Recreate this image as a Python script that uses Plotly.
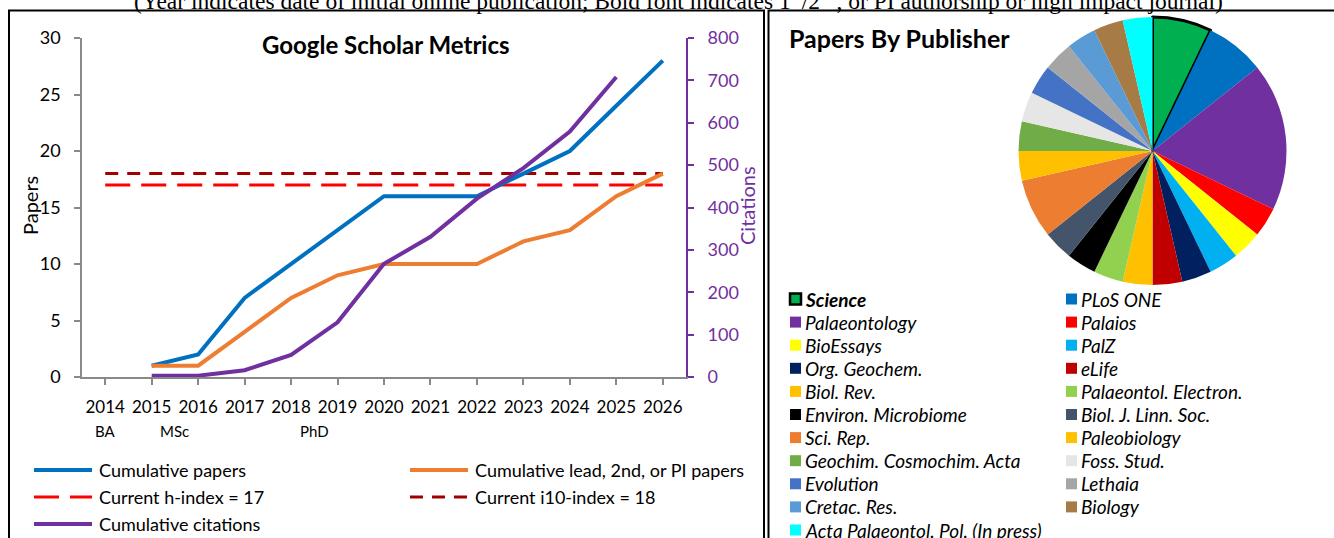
import plotly.graph_objects as go

# ---------------- data ----------------
paper_years = [2015, 2016, 2017, 2018, 2019, 2020, 2021, 2022, 2023, 2024, 2025, 2026]
cum_papers = [1, 2, 7, 10, 13, 16, 16, 16, 18, 20, 24, 28]
cum_lead = [1, 1, 4, 7, 9, 10, 10, 10, 12, 13, 16, 18]
citation_years = [2015, 2016, 2017, 2018, 2019, 2020, 2021, 2022, 2023, 2024, 2025]
cum_citations = [3, 3, 16, 52, 129, 267, 331, 421, 493, 579, 708]
index_years = [2014, 2026]
h_index = 17
i10_index = 18
tick_years = list(range(2014, 2027))
stage_labels = ["BA", "MSc", "PhD"]
stage_years = [2014, 2015.5, 2018.5]

series_names = ["Cumulative papers", "Cumulative lead, 2nd, or PI papers",
                "Current h-index = 17", "Current i10-index = 18", "Cumulative citations"]

publishers = ["Science", "PLoS ONE", "Palaeontology", "Palaios", "BioEssays", "PalZ",
              "Org. Geochem.", "eLife", "Biol. Rev.", "Palaeontol. Electron.",
              "Environ. Microbiome", "Biol. J. Linn. Soc.", "Sci. Rep.", "Paleobiology",
              "Geochim. Cosmochim. Acta", "Foss. Stud.", "Evolution", "Lethaia",
              "Cretac. Res.", "Biology", "Acta Palaeontol. Pol. (In press)"]
publisher_papers = [2, 2, 5, 1, 1, 1, 1, 1, 1, 1, 1, 1, 2, 1, 1, 1, 1, 1, 1, 1, 1]
publisher_colors = ["#00B050", "#0070C0", "#7030A0", "#FF0000", "#FFFF00", "#00B0F0",
                    "#002060", "#C00000", "#FFC000", "#92D050", "#000000", "#44546A",
                    "#ED7D31", "#FFC000", "#70AD47", "#E7E6E6", "#4472C4", "#A5A5A5",
                    "#5B9BD5", "#A67B45", "#00FFFF"]
bold_publishers = ["Science"]

# ---------------- styling ----------------
W, H = 1334, 538
FONT = "Lato"
BLUE, ORANGE, RED, DARKRED, PURPLE = "#0070C0", "#ED7D31", "#FF0000", "#A00000", "#7030A0"
AXGREY = "#898989"


def px(x):
    return x / W


def py(y):
    return 1 - y / H


fig = go.Figure()

# reference lines
fig.add_trace(go.Scatter(x=index_years, y=[h_index] * len(index_years), mode="lines",
                         line=dict(color=RED, width=3, dash="25px,11px"),
                         name=series_names[2], xaxis="x", yaxis="y"))
fig.add_trace(go.Scatter(x=index_years, y=[i10_index] * len(index_years), mode="lines",
                         line=dict(color=DARKRED, width=3, dash="13px,9px"),
                         name=series_names[3], xaxis="x", yaxis="y"))
fig.add_trace(go.Scatter(x=paper_years, y=cum_papers, mode="lines",
                         line=dict(color=BLUE, width=4), name=series_names[0],
                         xaxis="x", yaxis="y"))
fig.add_trace(go.Scatter(x=paper_years, y=cum_lead, mode="lines",
                         line=dict(color=ORANGE, width=4), name=series_names[1],
                         xaxis="x", yaxis="y"))
fig.add_trace(go.Scatter(x=citation_years, y=cum_citations, mode="lines",
                         line=dict(color=PURPLE, width=4), name=series_names[4],
                         xaxis="x", yaxis="y2"))

# pie
line_w = [3 if p in bold_publishers else 0 for p in publishers]
fig.add_trace(go.Pie(labels=publishers, values=publisher_papers, sort=False,
                     direction="clockwise", rotation=0, textinfo="none",
                     marker=dict(colors=publisher_colors,
                                 line=dict(color="#000000", width=line_w)),
                     domain=dict(x=[px(1018.5), px(1286.5)], y=[py(285), py(17)]),
                     showlegend=False))

fig.update_layout(
    width=W, height=H, margin=dict(l=0, r=0, t=0, b=0, autoexpand=False),
    paper_bgcolor="white", plot_bgcolor="white", showlegend=False,
    font=dict(family=FONT, size=18, color="#000000"),
    xaxis=dict(domain=[px(82), px(686)], range=[2013.5, 2026.5], tickmode="array",
               tickvals=tick_years, ticktext=[str(y) for y in tick_years],
               showgrid=False, zeroline=False, showline=True, linecolor=AXGREY,
               linewidth=1.5, ticks="outside", ticklen=6, tickcolor=AXGREY,
               tickwidth=1.5, ticklabelstandoff=8, tickfont=dict(size=17),
               anchor="y", fixedrange=True),
    yaxis=dict(domain=[py(377), py(38)], range=[0, 30], dtick=5, showgrid=False,
               zeroline=False, showline=True, linecolor=AXGREY, linewidth=1.5,
               ticks="outside", ticklen=6, tickcolor=AXGREY, tickwidth=1.5,
               ticklabelstandoff=10, tickfont=dict(size=18), anchor="x"),
    yaxis2=dict(overlaying="y", side="right", range=[0, 800], dtick=100, showgrid=False,
                zeroline=False, showline=True, linecolor=PURPLE, linewidth=2,
                ticks="outside", ticklen=6, tickcolor=PURPLE, tickwidth=2,
                ticklabelstandoff=10, tickfont=dict(size=18, color=PURPLE), anchor="x"),
)

shapes = []
annotations = []

# panel borders
shapes.append(dict(type="rect", xref="paper", yref="paper", x0=px(9), x1=px(764),
                   y0=py(545), y1=py(10.5), line=dict(color="black", width=2)))
shapes.append(dict(type="rect", xref="paper", yref="paper", x0=px(768.5), x1=px(1345),
                   y0=py(545), y1=py(10.5), line=dict(color="black", width=2)))

# header caption (partially cut off at top)
annotations.append(dict(
    text="(Year indicates date of initial online publication; Bold font indicates "
         "1<sup>st</sup>/2<sup>nd</sup>, or PI authorship or high impact journal)",
    xref="paper", yref="paper", x=px(678), y=py(-1), xanchor="center", yanchor="middle",
    showarrow=False, font=dict(family="Liberation Serif", size=23.5, color="#000000")))

# titles
annotations.append(dict(text="<b>Google Scholar Metrics</b>", xref="paper", yref="paper",
                        x=px(386), y=py(45), xanchor="center", yanchor="middle",
                        showarrow=False, font=dict(family=FONT, size=24)))
annotations.append(dict(text="<b>Papers By Publisher</b>", xref="paper", yref="paper",
                        x=px(787), y=py(38), xanchor="left", yanchor="middle",
                        showarrow=False, font=dict(family=FONT, size=25)))
annotations.append(dict(text="Papers", xref="paper", yref="paper", x=px(30), y=py(206),
                        xanchor="center", yanchor="middle", textangle=-90,
                        showarrow=False, font=dict(family=FONT, size=20)))
annotations.append(dict(text="Citations", xref="paper", yref="paper", x=px(747), y=py(206),
                        xanchor="center", yanchor="middle", textangle=-90,
                        showarrow=False, font=dict(family=FONT, size=20, color=PURPLE)))

# stage labels under the x axis
for lab, yr in zip(stage_labels, stage_years):
    annotations.append(dict(text=lab, xref="x", yref="paper", x=yr, y=py(431),
                            xanchor="center", yanchor="middle",
                            showarrow=False, font=dict(family=FONT, size=15)))

# left legend (two columns)
leg_colors = [BLUE, ORANGE, RED, DARKRED, PURPLE]
leg_dash = ["solid", "solid", "25px,11px", "13px,9px", "solid"]
leg_width = [4, 4, 3, 3, 4]
col_x = [34, 410]
row_y = [470, 497, 524]
for i, name in enumerate(series_names):
    cx = col_x[i % 2]
    ry = row_y[i // 2]
    shapes.append(dict(type="line", xref="paper", yref="paper", x0=px(cx), x1=px(cx + 58),
                       y0=py(ry), y1=py(ry),
                       line=dict(color=leg_colors[i], width=leg_width[i], dash=leg_dash[i])))
    annotations.append(dict(text=name, xref="paper", yref="paper", x=px(cx + 63), y=py(ry),
                            xanchor="left", yanchor="middle", showarrow=False,
                            font=dict(family=FONT, size=18)))

# pie legend (two columns)
pcol_x = [790, 1066]
for i, (name, col) in enumerate(zip(publishers, publisher_colors)):
    cx = pcol_x[i % 2]
    ry = 299 + 23.1 * (i // 2)
    bold = name in bold_publishers
    shapes.append(dict(type="rect", xref="paper", yref="paper", x0=px(cx), x1=px(cx + 11),
                       y0=py(ry + 5.5), y1=py(ry - 5.5), fillcolor=col,
                       line=dict(color="black", width=2.5 if bold else 0)))
    txt = f"<b><i>{name}</i></b>" if bold else f"<i>{name}</i>"
    annotations.append(dict(text=txt, xref="paper", yref="paper", x=px(cx + 13), y=py(ry),
                            xanchor="left", yanchor="middle", showarrow=False,
                            font=dict(family=FONT, size=19)))

fig.update_layout(shapes=shapes, annotations=annotations)
fig.write_html("out.html", config={"displayModeBar": False},
               post_script="document.body.style.margin='0px';")
